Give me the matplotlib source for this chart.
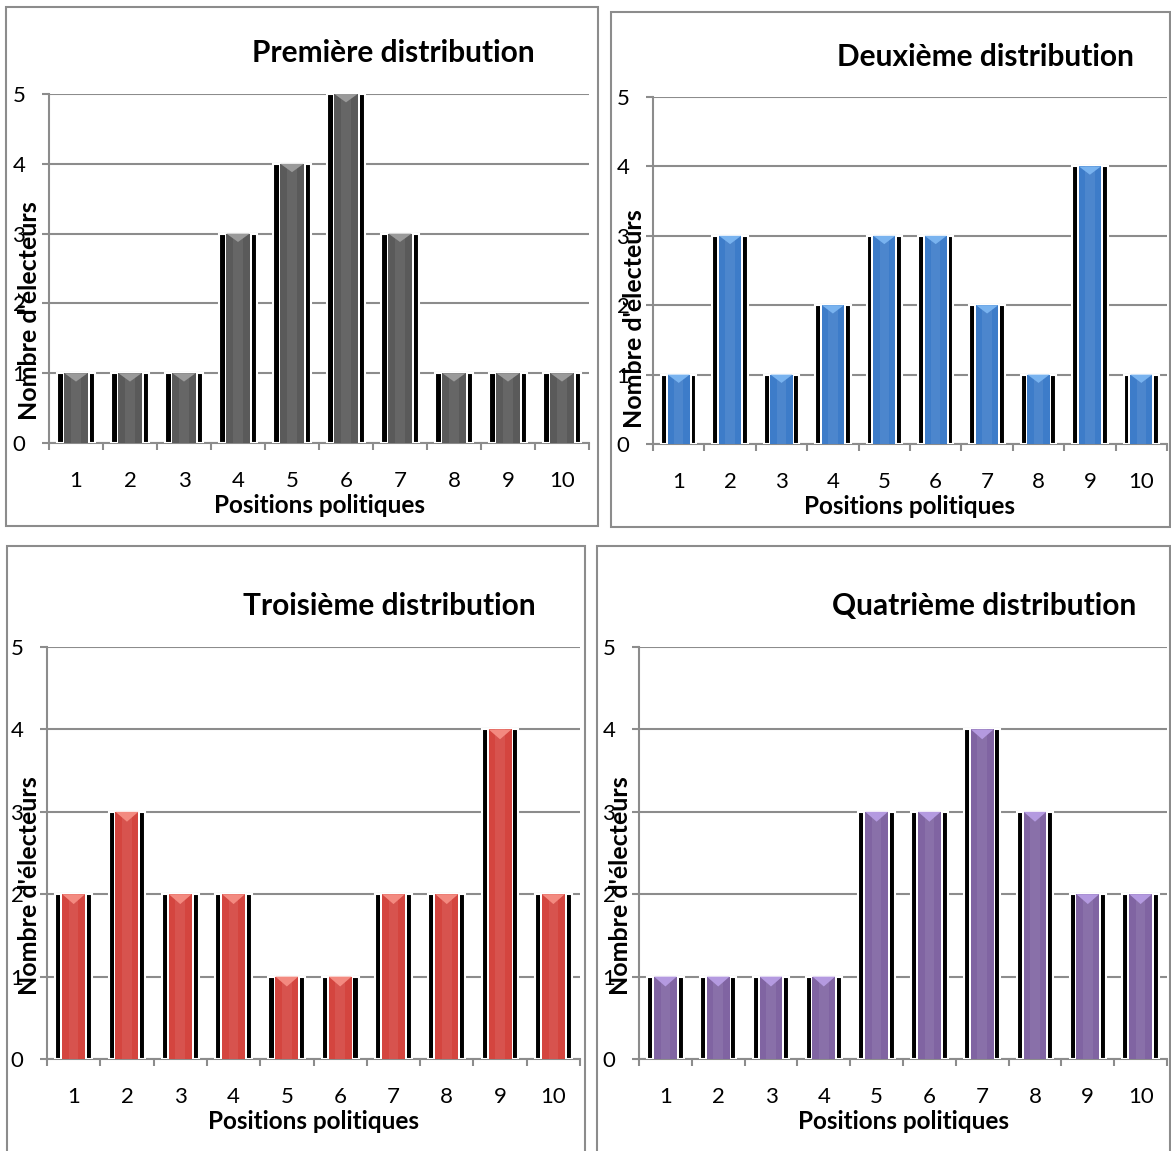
import numpy as np
import matplotlib
matplotlib.use("Agg")
import matplotlib.pyplot as plt
from matplotlib.patches import Rectangle

plt.rcParams["font.family"] = ["Lato", "DejaVu Sans"]

# ── Données ───────────────────────────────────────────────
positions = [1, 2, 3, 4, 5, 6, 7, 8, 9, 10]
titres = ["Première distribution", "Deuxième distribution",
          "Troisième distribution", "Quatrième distribution"]
dist1 = [1, 1, 1, 3, 4, 5, 3, 1, 1, 1]
dist2 = [1, 3, 1, 2, 3, 3, 2, 1, 4, 1]
dist3 = [2, 3, 2, 2, 1, 1, 2, 2, 4, 2]
dist4 = [1, 1, 1, 1, 3, 3, 4, 3, 2, 2]
couleurs = ["#5a5a5a", "#3d7cc9", "#d4453f", "#8064a2"]
pointes = ["#9a9a9a", "#79b3ef", "#f38a80", "#b49ae0"]

W, H = 1171, 1151
fig = plt.figure(figsize=(W / 100, H / 100), dpi=100)

def px(x0, y0, x1, y1):
    # pixels (haut-gauche) -> fraction de figure
    return [x0 / W, 1 - y1 / H, (x1 - x0) / W, (y1 - y0) / H]

# cadres et axes (en pixels)
cadres = [(6, 7, 598, 526), (611, 12, 1170, 527),
          (7, 546, 585, 1160), (597, 546, 1170, 1160)]
zones = [(49, 94, 589, 443), (653, 97, 1167, 444),
         (47, 647, 580, 1059), (639, 647, 1167, 1059)]
titre_x = [393, 985, 389, 984]
titre_pad = [23, 22, 23, 23]
ylab_x = [30, 634, 30, 620]
ylab_y = [0.38, 0.36, 0.42, 0.42]

for (x0, y0, x1, y1) in cadres:
    fig.patches.append(Rectangle((x0 / W, 1 - y1 / H), (x1 - x0) / W, (y1 - y0) / H,
                                 transform=fig.transFigure, fill=False,
                                 edgecolor="#8c8c8c", lw=1.5))

gris = "#8c8c8c"
for k, vals in enumerate([dist1, dist2, dist3, dist4]):
    ax = fig.add_axes(px(*zones[k]))
    x = np.array(positions)
    v = np.array(vals)
    # ombre noire + liseré blanc
    ax.bar(x, v, width=0.69, color="black", edgecolor="white", lw=1.5, zorder=3)
    ax.bar(x, v, width=0.50, color="white", lw=0, zorder=4)
    ax.bar(x, v, width=0.43, color=couleurs[k], lw=0, zorder=5)
    ax.bar(x, v, width=0.18, color="white", alpha=0.08, lw=0, zorder=6)
    # pointe claire en haut de chaque barre
    d = 0.12
    for xi, vi in zip(x, v):
        ax.fill([xi - 0.215, xi + 0.215, xi], [vi, vi, vi - d],
                color=pointes[k], lw=0, zorder=7)

    ax.set_xlim(0.5, 10.5)
    ax.set_ylim(0, 5)
    ax.set_yticks(range(6))
    ax.set_xticks(positions)
    ax.set_xticks(np.arange(0.5, 11, 1), minor=True)
    ax.grid(axis="y", color=gris, lw=1.5, zorder=1)
    for s in ["top", "right"]:
        ax.spines[s].set_visible(False)
    for s in ["left", "bottom"]:
        ax.spines[s].set_color(gris)
        ax.spines[s].set_linewidth(1.5)
    ax.tick_params(axis="y", length=5, width=1.5, color=gris, pad=12, labelsize=16)
    ax.tick_params(axis="x", which="major", length=0, pad=20, labelsize=16)
    ax.tick_params(axis="x", which="minor", length=5, width=1.5, color=gris)

    ax.set_xlabel("Positions politiques", fontsize=17.5, fontweight="bold", labelpad=2)
    ax.set_ylabel("Nombre d'électeurs", fontsize=18, fontweight="bold")
    yl = ax.yaxis.label
    yl.set_va("center")
    zx0, zy0, zx1, zy1 = zones[k]
    ax.yaxis.set_label_coords((ylab_x[k] - zx0) / (zx1 - zx0), ylab_y[k])
    ax.set_title(titres[k], fontsize=21.5, fontweight="bold",
                 x=(titre_x[k] - zx0) / (zx1 - zx0), pad=titre_pad[k])

fig.savefig("out.png", dpi=100)
